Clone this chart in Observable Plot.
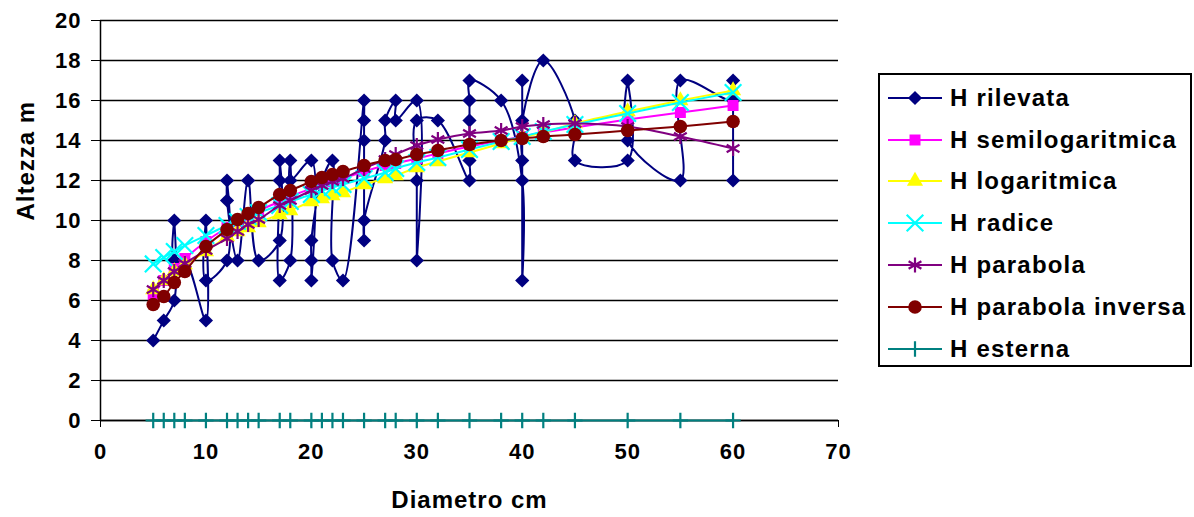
<!DOCTYPE html>
<html>
<head>
<meta charset="utf-8">
<script src="https://cdn.jsdelivr.net/npm/d3@7"></script>
<script src="https://cdn.jsdelivr.net/npm/@observablehq/plot@0.6"></script>
<style>
  html, body { margin: 0; padding: 0; background: #fff; }
  #wrap { position: relative; width: 1194px; height: 517px; font-family: "Liberation Sans", Arial, sans-serif; }
  #legend { position: absolute; left: 878px; top: 73px; width: 314px; height: 294px; border: 2px solid #000; box-sizing: border-box; padding-top: 2px; background: #fff; }
  .row { height: 41.8px; display: flex; align-items: center; }
  .row svg { flex: none; }
  .row span { font-weight: bold; font-size: 24px; letter-spacing: 1.2px; color: #000; white-space: nowrap; }
</style>
</head>
<body>
<div id="wrap"><div id="chart"></div><div id="legend"></div></div>
<script>
// ---- data ----
const diam = [5,6,7,8,10,12,13,14,15,17,18,20,21,22,23,25,27,28,30,32,35,38,40,42,45,50,55,60];

const rilevataD = [5,6,7,7,7,8,10,10,10,12,12,12,13,14,15,17,17,17,17,18,18,18,20,20,20,20,21,22,22,23,25,25,25,25,25,27,27,28,28,30,30,30,30,32,35,35,35,35,35,38,40,40,40,40,40,42,45,45,50,50,50,55,55,60,60,60];
const rilevataH = [4,5,6,10,8,8,5,10,7,8,12,11,8,12,8,9,13,12,7,8,13,12,13,7,8,9,12,13,8,7,16,15,14,9,10,14,15,16,15,16,8,12,15,15,12,13,15,16,17,16,12,7,17,13,15,18,15,13,13,17,14,12,17,16,17,12];

const hSemilog     = [6.3,7.0,7.6,8.1,8.95,9.65,9.95,10.25,10.5,10.95,11.2,11.6,11.8,11.95,12.1,12.45,12.75,12.85,13.1,13.35,13.7,14.0,14.2,14.4,14.65,15.05,15.4,15.75];
const hLog         = [6.55,7.0,7.45,7.8,8.45,9.2,9.45,9.65,9.9,10.3,10.5,10.95,11.1,11.25,11.4,11.8,12.1,12.25,12.65,12.95,13.4,13.85,14.15,14.4,14.85,15.45,16.0,16.5];
const hRadice      = [7.83,8.15,8.45,8.75,9.25,9.75,9.95,10.2,10.4,10.75,10.95,11.3,11.5,11.65,11.8,12.1,12.4,12.6,12.9,13.15,13.55,13.95,14.2,14.45,14.8,15.35,15.9,16.4];
const hParabola    = [6.55,7.0,7.45,7.85,8.5,9.1,9.45,9.8,10.05,10.75,11.0,11.5,11.75,11.95,12.1,12.6,13.05,13.3,13.75,14.05,14.35,14.5,14.7,14.8,14.85,14.7,14.2,13.6];
const hParabolaInv = [5.8,6.2,6.9,7.45,8.7,9.55,10.05,10.35,10.65,11.3,11.5,11.95,12.15,12.3,12.45,12.75,13.0,13.05,13.3,13.5,13.8,14.0,14.1,14.2,14.3,14.5,14.7,14.95];
const hEsterna     = [0,0,0,0,0,0,0,0,0,0,0,0,0,0,0,0,0,0,0,0,0,0,0,0,0,0,0,0];

const xTicks = [0,10,20,30,40,50,60,70];
const yTicks = [0,2,4,6,8,10,12,14,16,18,20];

const seriesNames = ["H rilevata","H semilogaritmica","H logaritmica","H radice","H parabola","H parabola inversa","H esterna"];

// ---- styles ----
const styles = [
  {color:"#000080", symbol:"diamond2", filled:true,  r:6.4},
  {color:"#FF00FF", symbol:"square",   filled:true,  r:6.2},
  {color:"#FFFF00", symbol:"triangle", filled:true,  r:6.0},
  {color:"#00FFFF", symbol:"times",    filled:false, r:7.6},
  {color:"#800080", symbol:"asterisk", filled:false, r:7.0},
  {color:"#800000", symbol:"circle",   filled:true,  r:6.8},
  {color:"#008080", symbol:"plus",     filled:false, r:5.0}
];

const fitValues = [hSemilog, hLog, hRadice, hParabola, hParabolaInv, hEsterna];
const rilevata = rilevataD.map((d, i) => ({d, h: rilevataH[i]}));

function seriesMarks(data, st) {
  const dotOpts = st.filled
    ? {x:"d", y:"h", symbol: st.symbol, r: st.r, fill: st.color, stroke: "none"}
    : {x:"d", y:"h", symbol: st.symbol, r: st.r, fill: "none", stroke: st.color, strokeWidth: 2.2};
  return [
    Plot.line(data, {x:"d", y:"h", stroke: st.color, strokeWidth: 2, curve: "catmull-rom"}),
    Plot.dot(data, dotOpts)
  ];
}

const marks = [
  Plot.gridY(yTicks, {stroke:"#000", strokeOpacity: 1, strokeWidth: 1.3}),
  Plot.ruleX([0], {stroke:"#000", strokeWidth: 1.5}),
  Plot.ruleY([0], {stroke:"#000", strokeWidth: 1.5}),
  Plot.axisX({ticks: xTicks, tickSize: 7, tickPadding: 16, label: null, tickFormat: d => String(d)}),
  Plot.axisY({ticks: yTicks, tickSize: 9, tickPadding: 10, label: null, tickFormat: d => String(d)}),
  ...seriesMarks(rilevata, styles[0])
];
fitValues.forEach((vals, k) => {
  const data = diam.map((d, i) => ({d, h: vals[i]}));
  marks.push(...seriesMarks(data, styles[k + 1]));
});
marks.push(
  Plot.text(["Diametro cm"], {frameAnchor: "bottom", text: d => d, dy: 87, fontSize: 24, fontWeight: "bold", lineAnchor: "bottom"}),
  Plot.text(["Altezza m"], {frameAnchor: "left", text: d => d, rotate: -90, dx: -67, fontSize: 24, fontWeight: "bold", lineAnchor: "bottom"})
);

const chart = Plot.plot({
  width: 1194,
  height: 517,
  marginLeft: 100,
  marginRight: 356,
  marginTop: 20,
  marginBottom: 97,
  x: {domain: [0, 70]},
  y: {domain: [0, 20]},
  style: {fontFamily: '"Liberation Sans", Arial, sans-serif', fontSize: "22px", fontWeight: "bold", color: "#000", background: "#fff", letterSpacing: "1px"},
  marks
});
document.getElementById("chart").appendChild(chart);

// ---- legend ----
const legend = d3.select("#legend");
const symType = {diamond2: d3.symbolDiamond2, square: d3.symbolSquare, triangle: d3.symbolTriangle, times: d3.symbolTimes, asterisk: d3.symbolAsterisk, circle: d3.symbolCircle, plus: d3.symbolPlus};
seriesNames.forEach((name, k) => {
  const st = styles[k];
  const row = legend.append("div").attr("class", "row");
  const svg = row.append("svg").attr("width", 70).attr("height", 30);
  svg.append("line").attr("x1", 8).attr("x2", 62).attr("y1", 15).attr("y2", 15).attr("stroke", st.color).attr("stroke-width", 2);
  const path = d3.symbol(symType[st.symbol], Math.PI * st.r * st.r)();
  const p = svg.append("path").attr("d", path).attr("transform", "translate(35,15)");
  if (st.filled) p.attr("fill", st.color);
  else p.attr("fill", "none").attr("stroke", st.color).attr("stroke-width", 2.2);
  row.append("span").text(name);
});
</script>
</body>
</html>
